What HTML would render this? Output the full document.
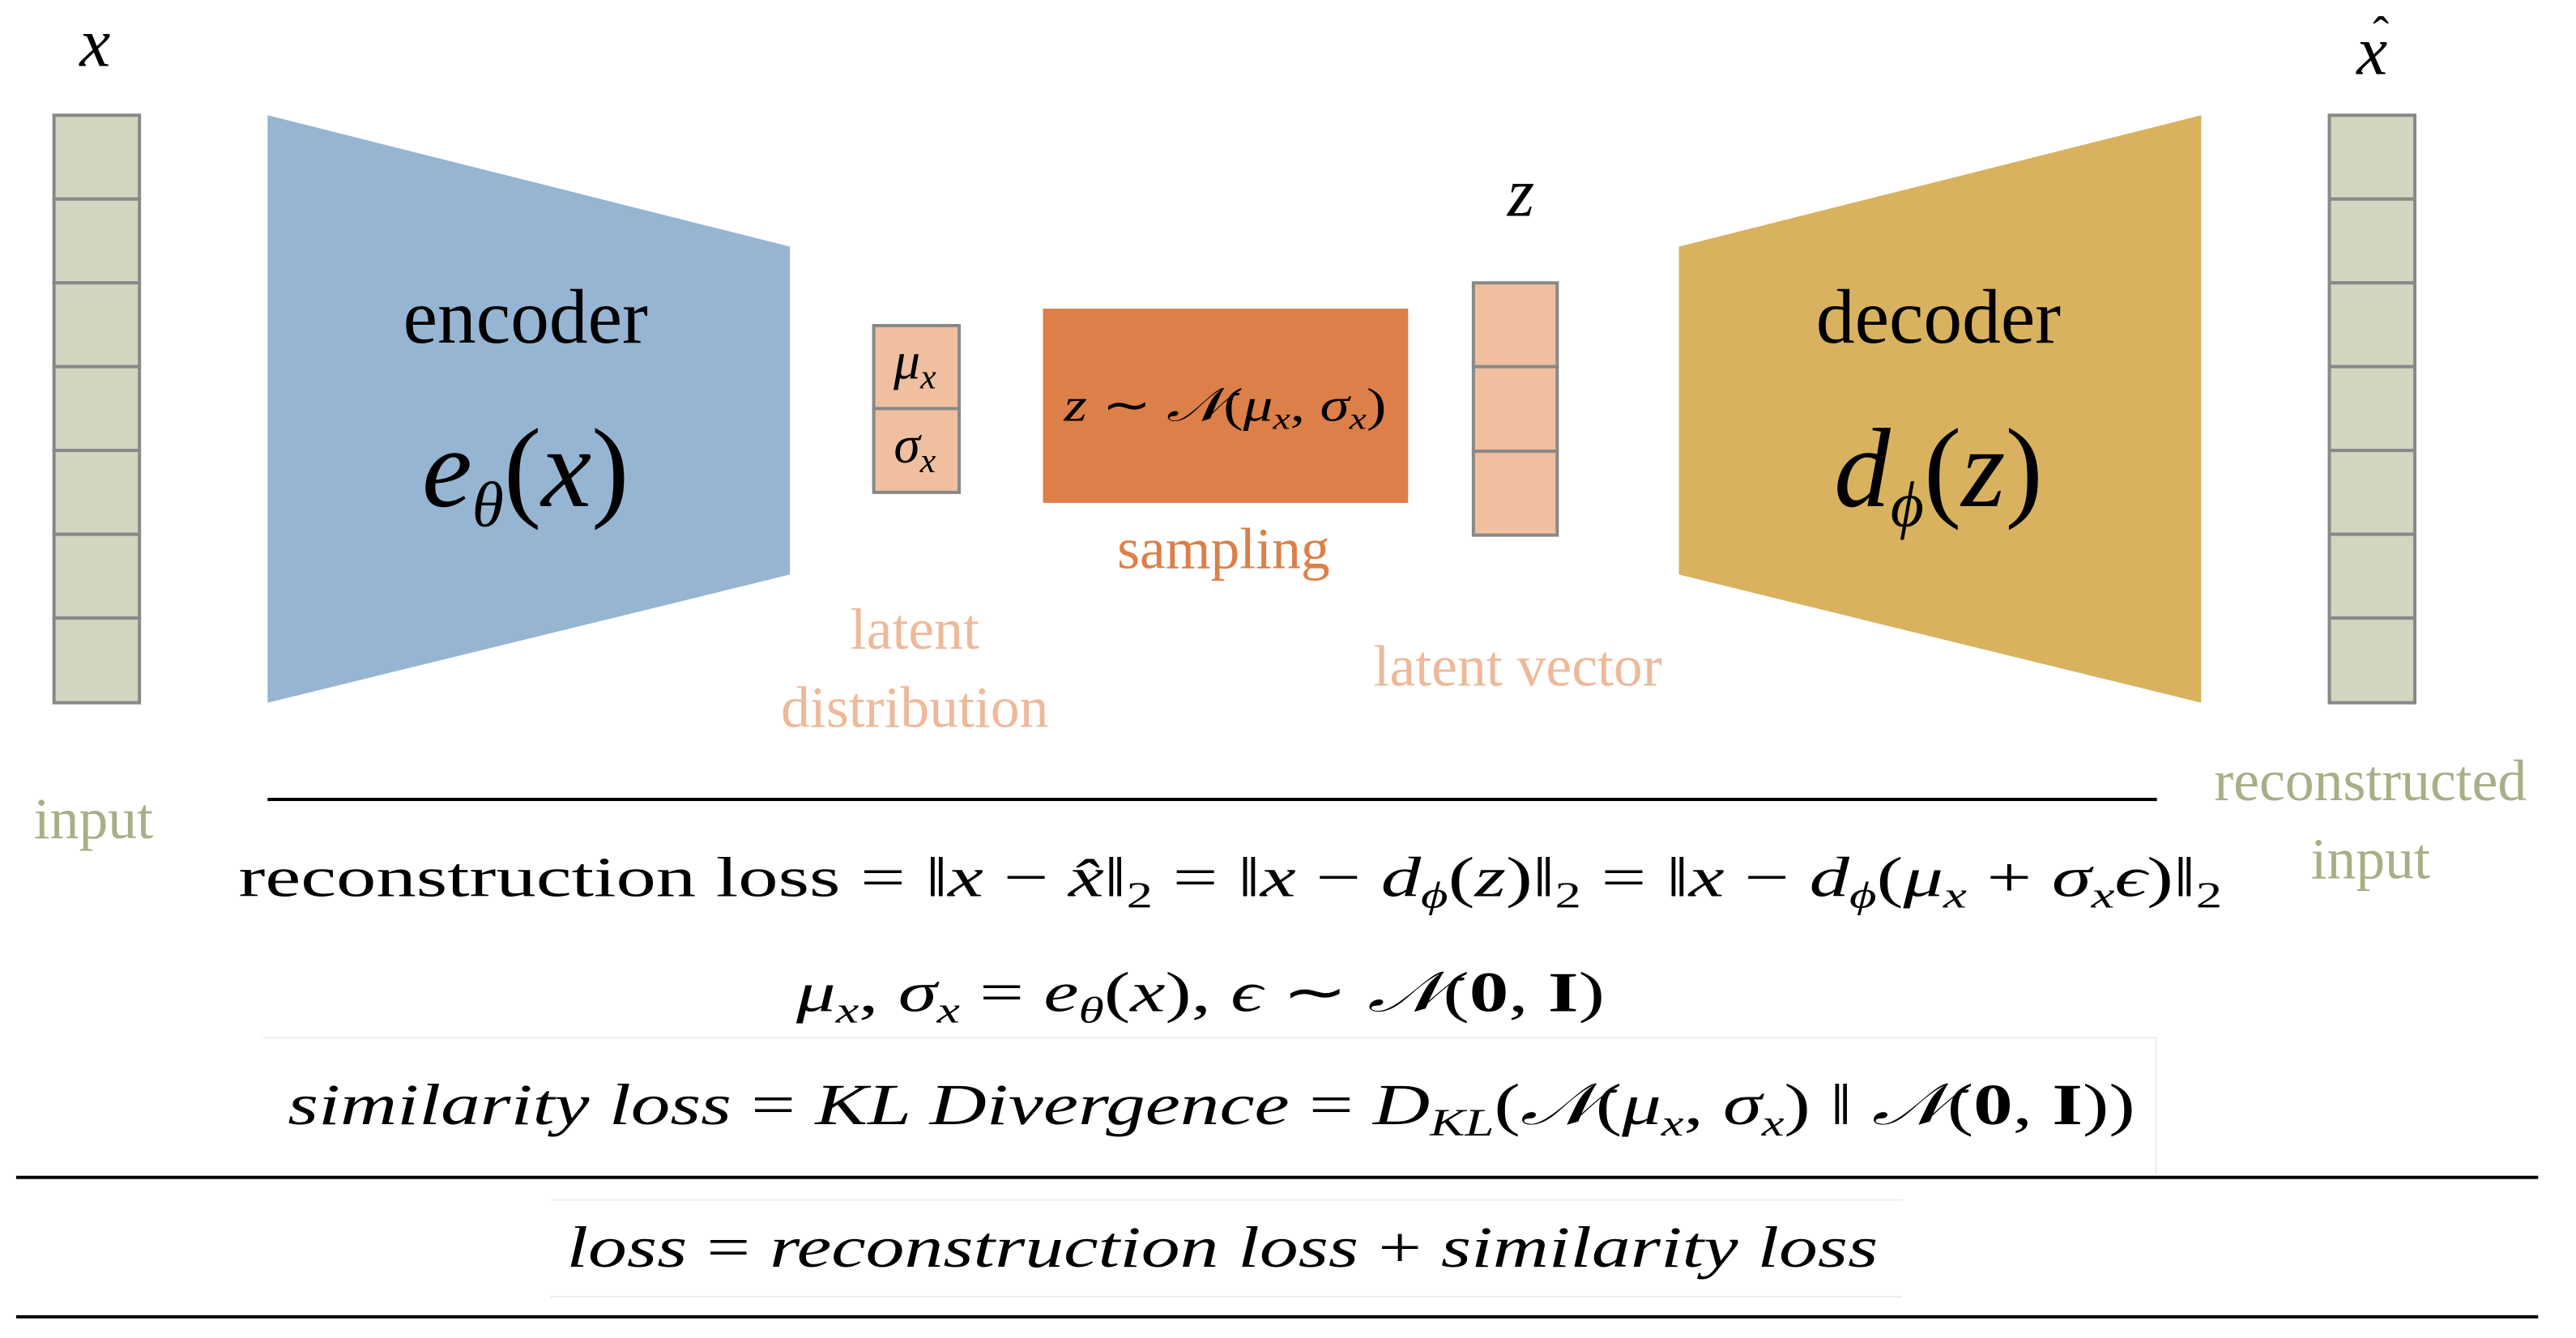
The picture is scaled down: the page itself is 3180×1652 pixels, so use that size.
<!DOCTYPE html>
<html><head><meta charset="utf-8"><style>
html,body{margin:0;padding:0;background:#fff;}
svg{display:block;}
text{font-family:"Liberation Serif",serif;}
.it{font-style:italic;}
</style></head><body>
<svg width="3180" height="1652" viewBox="0 0 3180 1652" xmlns="http://www.w3.org/2000/svg">
<g transform="scale(0.995)">
<!-- input bar -->
<g fill="#d3d5c0" stroke="#888" stroke-width="4">
<rect x="67" y="143" width="106" height="104"/><rect x="67" y="247" width="106" height="104"/><rect x="67" y="351" width="106" height="104"/><rect x="67" y="455" width="106" height="104"/><rect x="67" y="559" width="106" height="104"/><rect x="67" y="663" width="106" height="104"/><rect x="67" y="767" width="106" height="105"/>
<rect x="2890" y="143" width="106" height="104"/><rect x="2890" y="247" width="106" height="104"/><rect x="2890" y="351" width="106" height="104"/><rect x="2890" y="455" width="106" height="104"/><rect x="2890" y="559" width="106" height="104"/><rect x="2890" y="663" width="106" height="104"/><rect x="2890" y="767" width="106" height="105"/>
</g>
<text x="118" y="82" font-size="86" class="it" text-anchor="middle">x</text>
<text x="2943" y="92" font-size="86" class="it" text-anchor="middle">x</text>
<text x="2954" y="62" font-size="60" text-anchor="middle">ˆ</text>
<!-- encoder -->
<polygon points="332,143 980,306 980,713 332,872" fill="#95b5d3"/>
<text x="652" y="425" font-size="96" text-anchor="middle">encoder</text>
<text x="652" y="628" font-size="140" text-anchor="middle"><tspan class="it">e</tspan><tspan class="it" font-size="80" dy="25">θ</tspan><tspan dy="-25">(</tspan><tspan class="it">x</tspan>)</text>
<!-- mu sigma -->
<g fill="#efbfa0" stroke="#888" stroke-width="4">
<rect x="1084" y="404" width="106" height="103"/><rect x="1084" y="507" width="106" height="104"/>
</g>
<text x="1135" y="470" font-size="66" class="it" text-anchor="middle">μ<tspan font-size="44" dy="12">x</tspan></text>
<text x="1135" y="574" font-size="66" class="it" text-anchor="middle">σ<tspan font-size="44" dy="12">x</tspan></text>
<!-- sampling box -->
<rect x="1294" y="383" width="453" height="241" fill="#dd7f48"/>
<text x="1520" y="522" font-size="58" text-anchor="middle" textLength="400" lengthAdjust="spacingAndGlyphs"><tspan class="it">z</tspan> ∼ <tspan class="it">𝒩</tspan>(<tspan class="it">μ</tspan><tspan class="it" font-size="38" dy="10">x</tspan><tspan dy="-10">, </tspan><tspan class="it">σ</tspan><tspan class="it" font-size="38" dy="10">x</tspan><tspan dy="-10">)</tspan></text>
<text x="1518" y="705" font-size="72" fill="#dd7f48" text-anchor="middle">sampling</text>
<text x="1135" y="805" font-size="72" fill="#eeb999" text-anchor="middle">latent</text>
<text x="1135" y="902" font-size="72" fill="#eeb999" text-anchor="middle">distribution</text>
<!-- z bar -->
<g fill="#efbfa0" stroke="#888" stroke-width="4">
<rect x="1828" y="351" width="104" height="104"/><rect x="1828" y="455" width="104" height="105"/><rect x="1828" y="560" width="104" height="104"/>
</g>
<text x="1887" y="268" font-size="86" class="it" text-anchor="middle">z</text>
<text x="1883" y="851" font-size="72" fill="#eeb999" text-anchor="middle">latent vector</text>
<!-- decoder -->
<polygon points="2083,306 2731,143 2731,872 2083,713" fill="#d8b25e"/>
<text x="2405" y="425" font-size="96" text-anchor="middle">decoder</text>
<text x="2405" y="628" font-size="140" text-anchor="middle"><tspan class="it">d</tspan><tspan class="it" font-size="80" dy="25">ϕ</tspan><tspan dy="-25">(</tspan><tspan class="it">z</tspan>)</text>
<!-- labels -->
<text x="116" y="1040" font-size="72" fill="#aaae86" text-anchor="middle">input</text>
<text x="2941" y="993" font-size="72" fill="#aaae86" text-anchor="middle">reconstructed</text>
<text x="2941" y="1090" font-size="72" fill="#aaae86" text-anchor="middle">input</text>
<!-- lines -->
<rect x="332" y="990" width="2344" height="4" fill="#000"/>
<rect x="326" y="1287" width="2350" height="2" fill="#eee"/>
<rect x="2674" y="1287" width="2" height="170" fill="#eee"/>
<rect x="20" y="1459" width="3129" height="4" fill="#000"/>
<rect x="683" y="1488" width="1677" height="2" fill="#eee"/>
<rect x="683" y="1608" width="1677" height="2" fill="#eee"/>
<rect x="20" y="1632" width="3129" height="4" fill="#000"/>
<!-- equations -->
<text x="296" y="1112" font-size="70" textLength="2461" lengthAdjust="spacingAndGlyphs">reconstruction loss  = ‖<tspan class="it">x</tspan> − <tspan class="it">x̂</tspan>‖<tspan font-size="46" dy="14">2</tspan><tspan dy="-14"> = ‖</tspan><tspan class="it">x</tspan> − <tspan class="it">d</tspan><tspan class="it" font-size="46" dy="14">ϕ</tspan><tspan dy="-14">(</tspan><tspan class="it">z</tspan>)‖<tspan font-size="46" dy="14">2</tspan><tspan dy="-14"> = ‖</tspan><tspan class="it">x</tspan> − <tspan class="it">d</tspan><tspan class="it" font-size="46" dy="14">ϕ</tspan><tspan dy="-14">(</tspan><tspan class="it">μ</tspan><tspan class="it" font-size="46" dy="14">x</tspan><tspan dy="-14"> + </tspan><tspan class="it">σ</tspan><tspan class="it" font-size="46" dy="14">x</tspan><tspan class="it" dy="-14">ϵ</tspan>)‖<tspan font-size="46" dy="14">2</tspan></text>
<text x="988" y="1255" font-size="70" textLength="1003" lengthAdjust="spacingAndGlyphs"><tspan class="it">μ</tspan><tspan class="it" font-size="46" dy="14">x</tspan><tspan dy="-14">, </tspan><tspan class="it">σ</tspan><tspan class="it" font-size="46" dy="14">x</tspan><tspan dy="-14"> = </tspan><tspan class="it">e</tspan><tspan class="it" font-size="46" dy="14">θ</tspan><tspan dy="-14">(</tspan><tspan class="it">x</tspan>),     <tspan class="it">ϵ</tspan> ∼ <tspan class="it">𝒩</tspan>(<tspan font-weight="bold">0</tspan>, <tspan font-weight="bold">I</tspan>)</text>
<text x="357" y="1395" font-size="72" textLength="2292" lengthAdjust="spacingAndGlyphs"><tspan class="it">similarity loss</tspan> = <tspan class="it">KL Divergence</tspan> = <tspan class="it">D</tspan><tspan class="it" font-size="48" dy="14">KL</tspan><tspan dy="-14">(</tspan><tspan class="it">𝒩</tspan>(<tspan class="it">μ</tspan><tspan class="it" font-size="46" dy="14">x</tspan><tspan dy="-14">, </tspan><tspan class="it">σ</tspan><tspan class="it" font-size="46" dy="14">x</tspan><tspan dy="-14">) ‖ </tspan><tspan class="it">𝒩</tspan>(<tspan font-weight="bold">0</tspan>, <tspan font-weight="bold">I</tspan>))</text>
<text x="703" y="1572" font-size="72" textLength="1627" lengthAdjust="spacingAndGlyphs"><tspan class="it">loss</tspan> = <tspan class="it">reconstruction loss</tspan> + <tspan class="it">similarity loss</tspan></text>
</g>
</svg>
</body></html>
